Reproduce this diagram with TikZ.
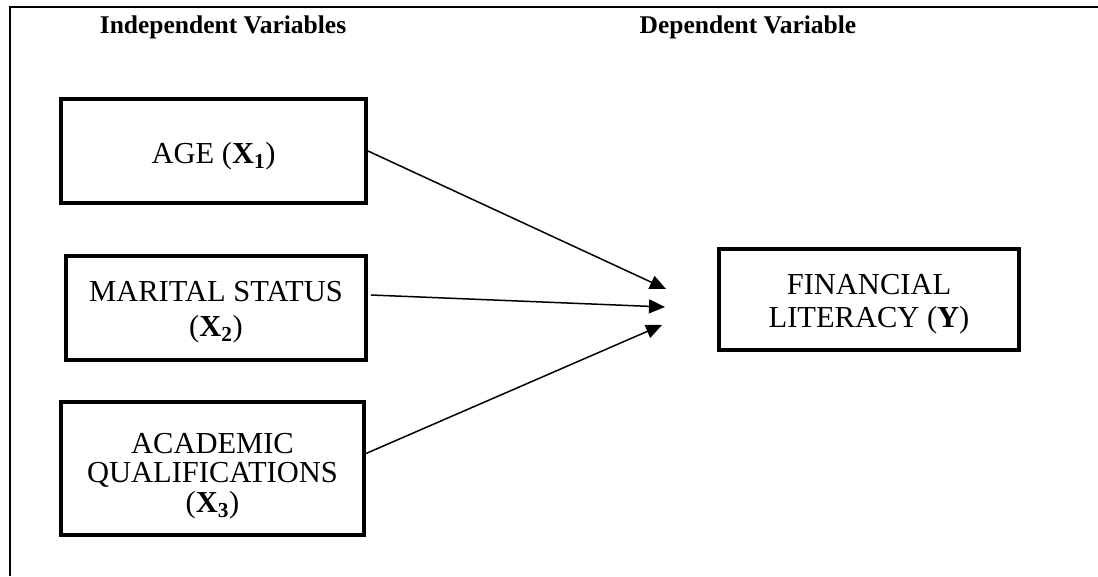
\documentclass[tikz,border=0pt]{standalone}
\usepackage{fontspec}
\setmainfont{Liberation Serif}
\usetikzlibrary{arrows.meta}
\tikzset{
  varbox/.style={draw=black, line width=4pt, inner sep=0pt},
  boxtext/.style={align=center, inner sep=0pt, font=\fontsize{30.5}{33}\selectfont},
  header/.style={font=\fontsize{25.5}{28}\selectfont\bfseries, anchor=base, inner sep=0pt},
  link/.style={line width=1.5pt, -{Triangle[length=16pt,width=14pt]}},
  frame/.style={line width=2pt}
}
\newcommand{\xv}[1]{\textbf{X}\textsubscript{\textbf{#1}}}
\begin{document}
\begin{tikzpicture}[x=1pt,y=-1pt]
\useasboundingbox (0,0) rectangle (1098,576);
% frame (top and left only)
\coordinate (fl) at (10,576);
\coordinate (ftl) at (10,7);
\coordinate (fr) at (1098,7);
\draw[frame] (fl) -- (ftl) -- (fr);
% headers
\node[header] (hind) at (223,33) {Independent Variables};
\node[header] (hdep) at (748,33) {Dependent Variable};
% boxes
\node[varbox, minimum width=305pt, minimum height=104pt] (age) at (213.5,151) {};
\node[varbox, minimum width=300pt, minimum height=104pt] (mar) at (216,308) {};
\node[varbox, minimum width=303pt, minimum height=133pt] (acad) at (212.5,468.5) {};
\node[varbox, minimum width=300pt, minimum height=101pt] (fin) at (869,299.5) {};
% box texts
\node[boxtext] (agetxt) at (213.5,156) {AGE (\xv{1})};
\node[boxtext, font=\fontsize{30.5}{35}\selectfont] (martxt) at (216,312) {MARITAL STATUS\\(\xv{2})};
\node[boxtext, font=\fontsize{30.5}{29.5}\selectfont] (acadtxt) at (212.5,476) {ACADEMIC\\QUALIFICATIONS\\(\xv{3})};
\node[boxtext] (fintxt) at (869,304.5) {FINANCIAL\\LITERACY (\textbf{Y})};
% arrow tips
\coordinate (t1) at (666,289);
\coordinate (t2) at (665,307);
\coordinate (t3) at (662,325);
\draw[link] (age.east) -- (t1);
\draw[link] ([xshift=3pt,yshift=13pt]mar.east) -- (t2);
\draw[link] ([yshift=15pt]acad.east) -- (t3);
\end{tikzpicture}
\end{document}
